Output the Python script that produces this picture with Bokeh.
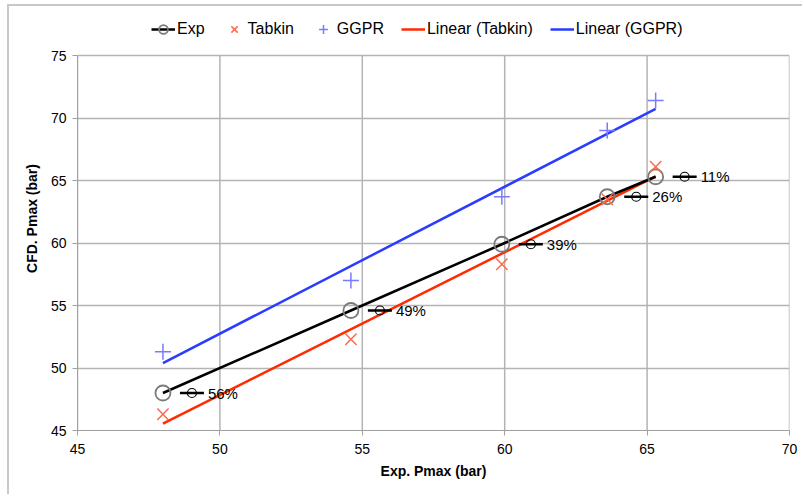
import numpy as np
from bokeh.plotting import figure
from bokeh.models import (Range1d, FixedTicker, Legend, LegendItem, ColumnDataSource)
from bokeh.embed import file_html
from bokeh.resources import INLINE
from bokeh.core.properties import value

# Experimental vs CFD peak pressures (bar)
exp_x = [48.0, 54.6, 59.9, 63.6, 65.3]
exp_y = [48.0, 54.6, 59.9, 63.7, 65.3]
tabkin_y = [46.3, 52.3, 58.3, 63.5, 66.1]
ggpr_y = [51.3, 57.0, 63.7, 69.0, 71.4]
pct_labels = ["56%", "49%", "39%", "26%", "11%"]

x_ticks = [45, 50, 55, 60, 65, 70]
y_ticks = [45, 50, 55, 60, 65, 70, 75]

FONT = "Liberation Sans"
OFF_L, OFF_T, BW = 7, 4, 2            # chart-area border offset and width
W, H = 804 - OFF_L - BW, 496 - OFF_T - BW
ML, MR, MB = 77 - OFF_L - BW, 15, 66
# plot area spans x 45..70 and y 45..75; the band above it holds the legend
plot_h = 375
top_band = (55 - OFF_T - BW)
y_lo, y_hi = y_ticks[0], y_ticks[-1]
y_top = y_hi + top_band * (y_hi - y_lo) / plot_h

p = figure(width=W, height=H, output_backend="svg", toolbar_location=None,
           x_range=Range1d(x_ticks[0], x_ticks[-1]), y_range=Range1d(y_lo, y_top),
           min_border_left=ML, min_border_right=MR, min_border_top=0,
           min_border_bottom=MB)
p.styles = {"border-left": f"{BW}px solid #c8c8c8",
            "border-top": f"{BW}px solid #c8c8c8",
            "margin-left": f"{OFF_L}px", "margin-top": f"{OFF_T}px"}
p.outline_line_color = None
p.background_fill_color = "white"
p.border_fill_color = "white"

for ax in (p.xaxis[0], p.yaxis[0]):
    ax.axis_line_color = "#a0a0a0"
    ax.major_tick_line_color = "#a0a0a0"
    ax.major_tick_out = 5
    ax.major_tick_in = 0
    ax.minor_tick_line_color = None
    ax.major_label_text_font = FONT
    ax.major_label_text_font_size = "14px"
    ax.major_label_text_color = "black"
    ax.axis_label_text_font = FONT
    ax.axis_label_text_font_size = "14px"
    ax.axis_label_text_font_style = "bold"
    ax.axis_label_text_color = "black"

p.xaxis.ticker = FixedTicker(ticks=x_ticks)
p.yaxis.ticker = FixedTicker(ticks=y_ticks)
p.yaxis.bounds = (y_lo, y_hi)
p.xaxis.axis_label = "Exp. Pmax (bar)"
p.yaxis.axis_label = "CFD. Pmax (bar)"
p.xaxis.major_label_standoff = 8
p.yaxis.major_label_standoff = 6
p.xaxis.axis_label_standoff = 6
p.yaxis.axis_label_standoff = 8

GRID = "#b4b4b4"
p.xgrid.visible = False
p.ygrid.grid_line_color = GRID
p.ygrid.grid_line_width = 1.5
# vertical grid lines limited to the plot area
p.segment(x0=x_ticks, y0=[y_lo] * len(x_ticks), x1=x_ticks, y1=[y_hi] * len(x_ticks),
          line_color=GRID, line_width=1.5)

# linear trend lines
xs = np.array(exp_x)
fit_x = np.array([min(exp_x), max(exp_x)])
kt = np.polyfit(xs, tabkin_y, 1)
kg = np.polyfit(xs, ggpr_y, 1)
r_lt = p.line(fit_x, np.polyval(kt, fit_x), line_color="#ff2a00", line_width=2.5)
r_lg = p.line(fit_x, np.polyval(kg, fit_x), line_color="#2a3cff", line_width=2.5)

# experimental series
r_el = p.line(exp_x, exp_y, line_color="black", line_width=2.5)
r_ec = p.scatter(exp_x, exp_y, marker="circle", size=15, fill_color=None,
                 line_color="#7a7a7a", line_width=1.8)

r_t = p.scatter(exp_x, tabkin_y, marker="x", size=16, line_color="#ff6a4d",
                line_width=1.5)
r_g = p.scatter(exp_x, ggpr_y, marker="cross", size=16, line_color="#7a7aff",
                line_width=1.5)

# percentage data labels with their series key, placed right of each point
px_per_unit = (W - ML - MR) / (x_ticks[-1] - x_ticks[0])
key_src = ColumnDataSource(dict(
    x=[v + 29 / px_per_unit for v in exp_x],
    y=exp_y,
    tx=[v + 45 / px_per_unit for v in exp_x],
    t=pct_labels,
))
p.scatter("x", "y", source=key_src, marker="dash", size=24, line_color="black",
          line_width=2.5)
p.scatter("x", "y", source=key_src, marker="circle", size=9, fill_color=None,
          line_color="black", line_width=1.2)
p.text("tx", "y", text="t", source=key_src, text_font=value(FONT),
       text_font_size="15px", text_baseline="middle", text_align="left",
       text_color="black")

legend = Legend(items=[
    LegendItem(label="Exp", renderers=[r_el, r_ec]),
    LegendItem(label="Tabkin", renderers=[r_t]),
    LegendItem(label="GGPR", renderers=[r_g]),
    LegendItem(label="Linear (Tabkin)", renderers=[r_lt]),
    LegendItem(label="Linear (GGPR)", renderers=[r_lg]),
], orientation="horizontal", location=(74, plot_h + 15))
legend.border_line_color = None
legend.background_fill_color = None
legend.label_text_font = FONT
legend.label_text_font_size = "16px"
legend.label_text_color = "black"
legend.glyph_width = 24
legend.glyph_height = 22
legend.label_standoff = 2
legend.spacing = 17
legend.padding = 2
legend.margin = 0
p.add_layout(legend, "center")

open("out.html", "w").write(file_html(p, INLINE))
